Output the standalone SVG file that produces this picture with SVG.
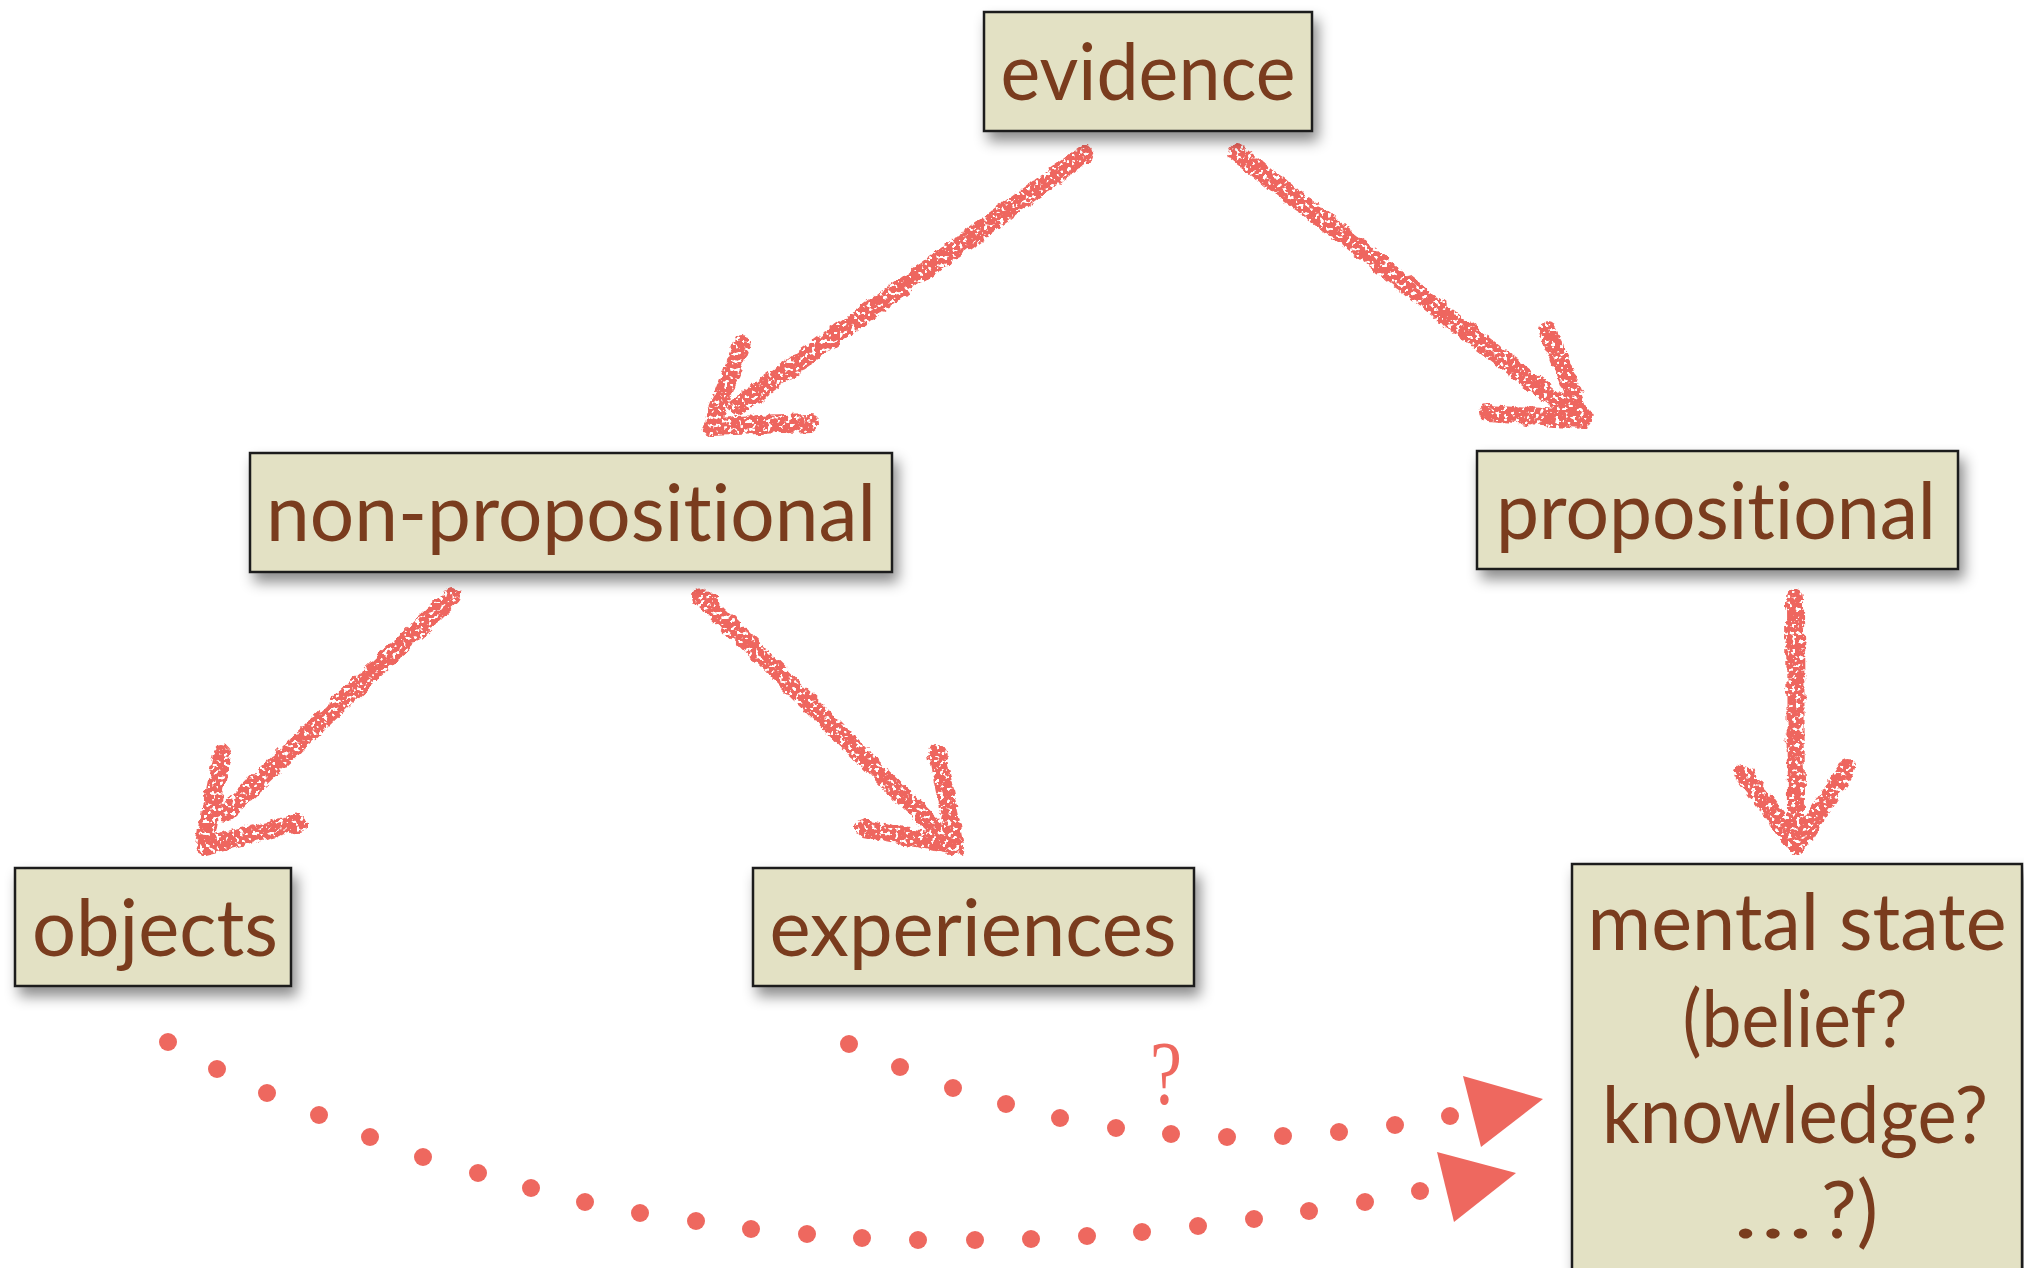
<svg xmlns="http://www.w3.org/2000/svg" width="2024" height="1268" viewBox="0 0 2024 1268">
  <defs>
    <filter id="shadow" x="-10%" y="-20%" width="125%" height="150%">
      <feDropShadow dx="5" dy="9" stdDeviation="7" flood-color="#000" flood-opacity="0.45"/>
    </filter>
    <!-- rough chalk edge and a few specks for the hand-drawn arrows -->
    <filter id="chalk" filterUnits="userSpaceOnUse" x="0" y="0" width="2024" height="1268">
      <feTurbulence type="fractalNoise" baseFrequency="0.1" numOctaves="3" seed="4" result="n"/>
      <feDisplacementMap in="SourceGraphic" in2="n" scale="8" xChannelSelector="R" yChannelSelector="G" result="d"/>
      <feTurbulence type="fractalNoise" baseFrequency="0.25" numOctaves="2" seed="11" result="n2"/>
      <feColorMatrix in="n2" type="matrix" values="0 0 0 0 0  0 0 0 0 0  0 0 0 0 0  -12 0 0 0 7.9" result="holes"/>
      <feComposite in="d" in2="holes" operator="in"/>
    </filter>
    <style>
      .box { fill: #e3e1c4; stroke: #1c1c1c; stroke-width: 2.5; filter: url(#shadow); }
      .lbl { font-family: Lato, "Open Sans", "Liberation Sans", sans-serif; font-size: 80px; fill: #7a3c1e; text-anchor: middle; font-variant-ligatures: none; }
      .chalk { fill: none; stroke: #ee665e; stroke-width: 18; stroke-linecap: round; stroke-linejoin: round; }
      .dot { fill: #ee685f; }
      .head { fill: #ee685f; }
    </style>
  </defs>

  <rect width="2024" height="1268" fill="#ffffff"/>

  <!-- connectors -->
  <g id="connectors">
    <g filter="url(#chalk)">
      <!-- evidence -> non-propositional -->
      <path class="chalk" d="M1085,154 L737,407"/>
      <path class="chalk" d="M742,344 L710,427 L810,423"/>
      <!-- evidence -> propositional -->
      <path class="chalk" d="M1237,153 L1564,407"/>
      <path class="chalk" d="M1548,331 L1583,420 L1488,413"/>
      <!-- non-propositional -> objects -->
      <path class="chalk" d="M452,596 L226,812"/>
      <path class="chalk" d="M222,754 L204,846 L298,823"/>
      <!-- non-propositional -> experiences -->
      <path class="chalk" d="M702,597 L933,826"/>
      <path class="chalk" d="M937,754 L956,846 L864,828"/>
      <!-- propositional -> mental state -->
      <path class="chalk" d="M1795,598 L1796,818"/>
      <path class="chalk" d="M1743,773 L1797,846 L1847,768"/>
    </g>

    <!-- experiences ... mental state (dotted) -->
    <g class="dot">
      <circle cx="849" cy="1044" r="9"/>
      <circle cx="900" cy="1067" r="9"/>
      <circle cx="953" cy="1088" r="9"/>
      <circle cx="1006" cy="1104" r="9"/>
      <circle cx="1060" cy="1118" r="9"/>
      <circle cx="1116" cy="1128" r="9"/>
      <circle cx="1171" cy="1134" r="9"/>
      <circle cx="1227" cy="1137" r="9"/>
      <circle cx="1283" cy="1136" r="9"/>
      <circle cx="1339" cy="1132" r="9"/>
      <circle cx="1395" cy="1125" r="9"/>
      <circle cx="1450" cy="1116" r="9"/>
    </g>
    <polygon class="head" points="1463,1076 1543,1099 1481,1147"/>
    <text x="1166" y="1104" font-family="'Liberation Serif', serif" font-size="90" fill="#ee685f" text-anchor="middle" transform="translate(1166 0) scale(0.8 1) translate(-1166 0)">?</text>

    <!-- objects ... mental state (dotted) -->
    <g class="dot">
      <circle cx="168" cy="1042" r="9"/>
      <circle cx="217" cy="1069" r="9"/>
      <circle cx="267" cy="1093" r="9"/>
      <circle cx="319" cy="1115" r="9"/>
      <circle cx="370" cy="1137" r="9"/>
      <circle cx="423" cy="1157" r="9"/>
      <circle cx="478" cy="1173" r="9"/>
      <circle cx="531" cy="1188" r="9"/>
      <circle cx="585" cy="1202" r="9"/>
      <circle cx="640" cy="1213" r="9"/>
      <circle cx="696" cy="1221" r="9"/>
      <circle cx="751" cy="1229" r="9"/>
      <circle cx="807" cy="1234" r="9"/>
      <circle cx="862" cy="1238" r="9"/>
      <circle cx="918" cy="1240" r="9"/>
      <circle cx="975" cy="1240" r="9"/>
      <circle cx="1031" cy="1239" r="9"/>
      <circle cx="1087" cy="1236" r="9"/>
      <circle cx="1142" cy="1232" r="9"/>
      <circle cx="1198" cy="1226" r="9"/>
      <circle cx="1254" cy="1219" r="9"/>
      <circle cx="1309" cy="1211" r="9"/>
      <circle cx="1365" cy="1202" r="9"/>
      <circle cx="1420" cy="1191" r="9"/>
    </g>
    <polygon class="head" points="1437,1152 1516,1173 1454,1222"/>
  </g>

  <!-- nodes -->
  <g id="evidence">
    <rect class="box" x="984" y="12" width="328" height="119"/>
    <text class="lbl" x="1148" y="100" textLength="295" lengthAdjust="spacingAndGlyphs">evidence</text>
  </g>

  <g id="non-propositional">
    <rect class="box" x="250" y="453" width="642" height="119"/>
    <text class="lbl" x="571" y="541" textLength="610" lengthAdjust="spacingAndGlyphs">non-propositional</text>
  </g>

  <g id="propositional">
    <rect class="box" x="1477" y="451" width="481" height="118"/>
    <text class="lbl" x="1716" y="539" textLength="440" lengthAdjust="spacingAndGlyphs">propositional</text>
  </g>

  <g id="objects">
    <rect class="box" x="15" y="868" width="276" height="118"/>
    <text class="lbl" x="155" y="956" textLength="246" lengthAdjust="spacingAndGlyphs">objects</text>
  </g>

  <g id="experiences">
    <rect class="box" x="753" y="868" width="441" height="118"/>
    <text class="lbl" x="973" y="956" textLength="407" lengthAdjust="spacingAndGlyphs">experiences</text>
  </g>

  <g id="mental-state">
    <rect class="box" x="1572" y="864" width="450" height="420"/>
    <text class="lbl" x="1797" y="950" textLength="419" lengthAdjust="spacingAndGlyphs">mental state</text>
    <text class="lbl" x="1795" y="1047" textLength="225" lengthAdjust="spacingAndGlyphs">(belief?</text>
    <text class="lbl" x="1795" y="1143" textLength="386" lengthAdjust="spacingAndGlyphs">knowledge?</text>
    <text class="lbl" x="1733" y="1238" style="text-anchor:start"><tspan textLength="80" lengthAdjust="spacingAndGlyphs">…</tspan><tspan dx="8">?)</tspan></text>
  </g>
</svg>
